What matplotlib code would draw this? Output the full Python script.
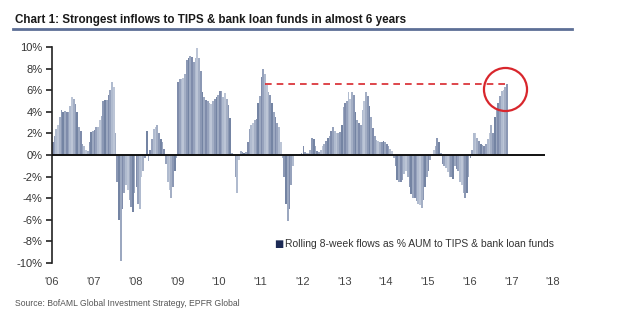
import matplotlib
matplotlib.use("Agg")
import matplotlib.pyplot as plt
from matplotlib.lines import Line2D
import numpy as np

# Rolling 8-week flows as % AUM, half-monthly readings (24 per year)
start_year = 2006
flows_2006 = [1.2, 1.8, 2.4, 2.8, 3.5, 4.2, 4.0, 4.1, 4.0, 4.0, 4.5, 5.4, 5.2, 4.7, 4.0, 2.6, 2.2, 1.0, 0.8, 0.5, 0.4, 1.2, 2.1, 2.2]
flows_2007 = [2.3, 2.6, 2.6, 3.2, 3.6, 5.0, 5.1, 5.1, 5.6, 6.0, 6.8, 6.3, 2.0, -2.5, -6.0, -9.8, -5.0, -3.5, -2.8, -3.2, -4.2, -4.8, -5.3, -3.5]
flows_2008 = [-3.0, -4.5, -5.0, -2.0, -1.5, -0.3, 2.2, -0.6, 0.5, 1.5, 2.4, 2.6, 2.8, 2.0, 1.5, 1.2, 0.6, -0.8, -2.5, -3.2, -4.0, -3.0, -1.5, -0.3]
flows_2009 = [6.8, 7.0, 7.0, 7.1, 7.5, 8.8, 9.0, 9.2, 9.1, 8.6, 9.0, 9.9, 9.0, 7.8, 5.8, 5.4, 5.1, 5.0, 4.8, 4.7, 5.0, 5.2, 5.4, 5.6]
flows_2010 = [5.9, 5.9, 5.4, 5.7, 5.2, 4.6, 3.4, 0.2, 0.1, -2.0, -3.5, -0.5, 0.4, 0.3, 0.2, 0.3, 1.2, 2.4, 2.8, 3.0, 3.2, 3.3, 4.8, 5.5]
flows_2011 = [7.2, 8.0, 7.5, 6.5, 5.8, 5.6, 4.8, 4.0, 3.5, 3.0, 2.6, 1.2, -0.3, -2.0, -4.5, -6.1, -5.0, -2.8, -1.0, 0.0, 0.1, 0.0, 0.1, 0.2]
flows_2012 = [0.8, 0.3, 0.2, 0.2, 0.5, 1.6, 1.5, 0.8, 0.4, 0.3, 0.5, 0.8, 1.0, 1.3, 1.6, 1.8, 2.2, 2.6, 2.2, 2.0, 2.0, 2.1, 2.8, 4.4]
flows_2013 = [4.8, 5.0, 5.8, 5.2, 5.8, 5.6, 4.0, 3.2, 3.0, 2.8, 4.2, 5.0, 5.8, 5.5, 4.5, 3.5, 2.5, 1.8, 1.4, 1.3, 1.2, 1.2, 1.3, 1.2]
flows_2014 = [1.0, 0.8, 0.6, 0.4, -0.3, -1.0, -2.3, -2.5, -2.5, -2.3, -1.8, -1.5, -2.0, -3.0, -3.6, -4.0, -4.0, -4.3, -4.5, -4.6, -4.9, -4.2, -3.0, -2.0]
flows_2015 = [-1.5, -0.5, 0.0, 0.5, 0.8, 1.6, 1.2, 0.2, -0.8, -1.0, -1.2, -1.6, -2.0, -2.0, -2.2, -1.0, -1.3, -1.5, -2.5, -2.8, -3.5, -4.0, -3.5, -2.0]
flows_2016 = [-0.3, 0.5, 2.0, 2.0, 1.6, 1.3, 1.0, 0.9, 0.8, 1.0, 1.5, 2.0, 2.8, 2.0, 3.5, 4.2, 4.8, 5.5, 5.9, 6.0, 6.3, 6.6]

year_labels = ["'06", "'07", "'08", "'09", "'10", "'11", "'12", "'13", "'14", "'15", "'16", "'17", "'18"]
ytick_vals = [-10, -8, -6, -4, -2, 0, 2, 4, 6, 8, 10]

prior_peak_level = 6.6
prior_peak_date = 2011.09
circle_center = (2016.85, 6.1)

flows = (flows_2006 + flows_2007 + flows_2008 + flows_2009 + flows_2010 + flows_2011 +
         flows_2012 + flows_2013 + flows_2014 + flows_2015 + flows_2016)
n = len(flows)
dates = start_year + np.arange(n) / 24.0

palette = ['#7f8cab', '#96a2bc', '#b0bbcf', '#bcc5d6', '#a4afc5', '#8b98b4', '#7484a3', '#9ca8c0']
colors = [palette[i % len(palette)] for i in range(n)]

fig = plt.figure(figsize=(6.4, 3.22), dpi=100)
ax = fig.add_axes([52/640, 59/322, 501/640, 216/322])

ax.bar(dates, flows, width=1/24.0, align='edge', color=colors, linewidth=0)

ax.set_xlim(2006, 2018)
ax.set_ylim(-10, 10)

ax.hlines(0, 2006, 2017.8, color='#111111', linewidth=1.4, zorder=3)

# dashed line & circle
ax.hlines(prior_peak_level, prior_peak_date, dates[-1], color='#d8262c',
          linestyle=(0, (4, 3)), linewidth=1.2, zorder=4)
ax.plot([circle_center[0]], [circle_center[1]], marker='o', markersize=31,
        markerfacecolor='none', markeredgecolor='#d8262c', markeredgewidth=1.6, zorder=5)

for s in ['top', 'right', 'bottom']:
    ax.spines[s].set_visible(False)
ax.spines['left'].set_color('#222222')
ax.spines['left'].set_linewidth(1.2)

fam = ['Liberation Sans', 'DejaVu Sans']

ax.set_yticks(ytick_vals)
ax.set_yticklabels([f"{v}%" for v in ytick_vals], fontsize=8, color='#333333', family=fam)
ax.tick_params(axis='y', direction='out', length=4, width=1.2, color='#222222', pad=3)

ax.set_xticks(np.arange(2006, 2019))
ax.set_xticklabels(year_labels, fontsize=8, color='#444444', family=fam)
ax.tick_params(axis='x', length=0, pad=10)

# legend
fig.text(274/640, 1 - 244/322, '\u25A0', fontsize=7, color='#1c2a55', va='center', ha='left',
         family='DejaVu Sans')
fig.text(285/640, 1 - 244/322, 'Rolling 8-week flows as % AUM to TIPS & bank loan funds',
         fontsize=7.5, color='#333333', va='center', ha='left', family=fam)

# title and rule
fig.text(15/640, 1 - 20/322, 'Chart 1: Strongest inflows to TIPS & bank loan funds in almost 6 years',
         fontsize=8.4, fontweight='bold', color='#1a1a1a', va='center', ha='left', family=fam)
fig.add_artist(Line2D([13/640, 572/640], [1 - 28.5/322, 1 - 28.5/322], color='#5d6f96', linewidth=2))

fig.text(15/640, 1 - 303/322, 'Source: BofAML Global Investment Strategy, EPFR Global',
         fontsize=6.2, color='#555555', va='center', ha='left', family=fam)

fig.savefig('out.png', dpi=100)
